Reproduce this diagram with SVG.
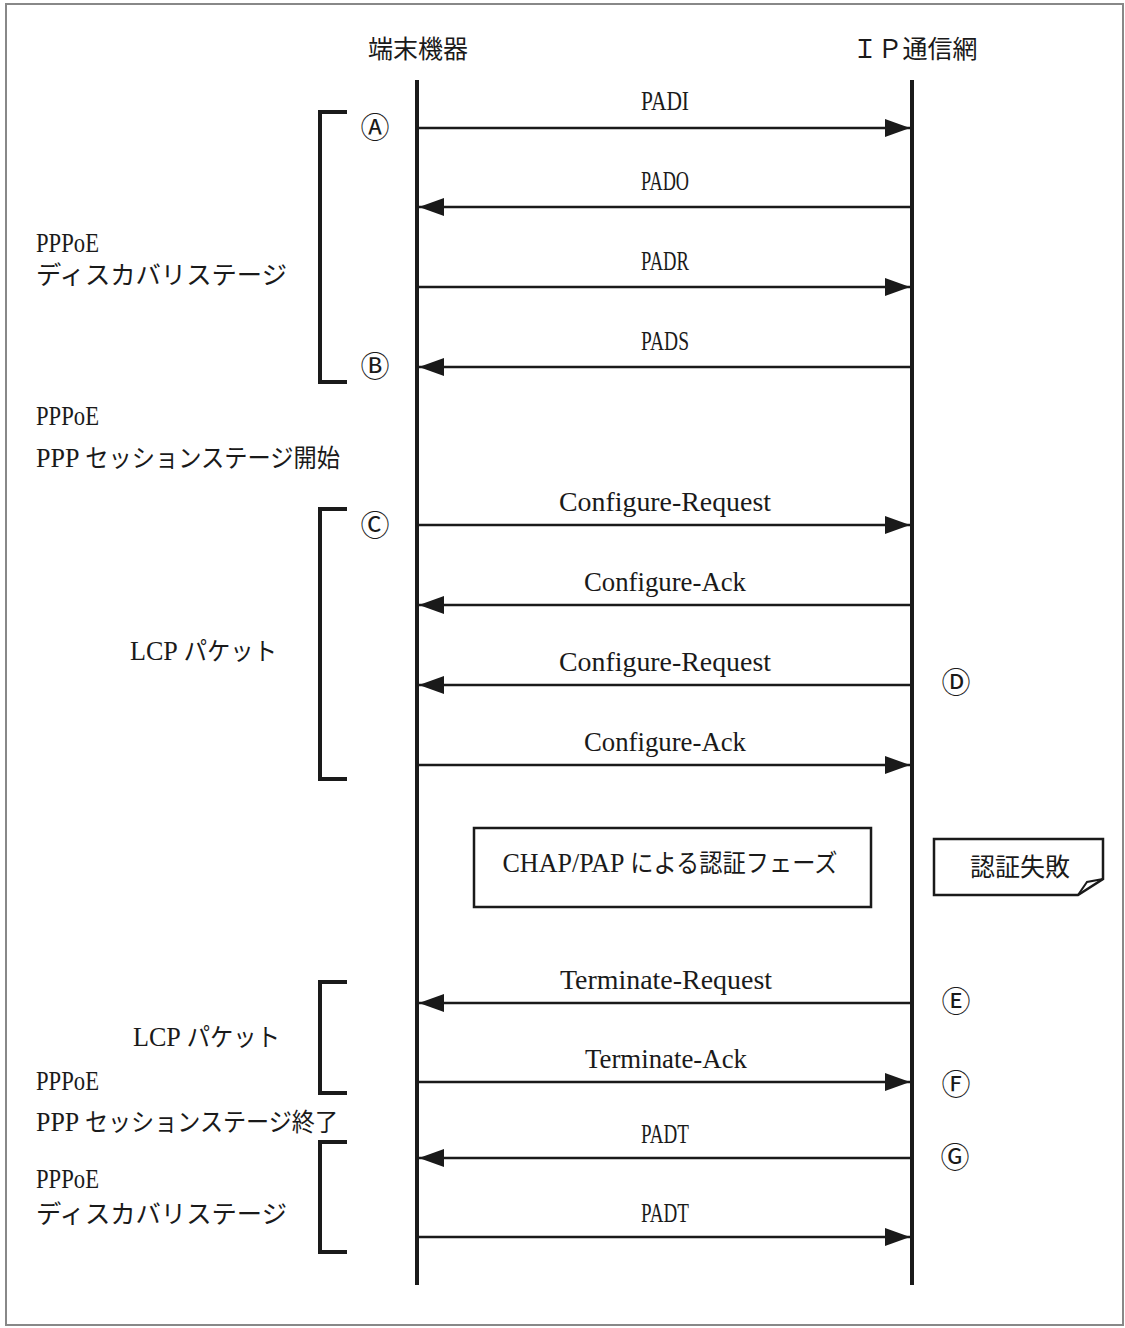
<svg xmlns="http://www.w3.org/2000/svg" width="1125" height="1328" viewBox="0 0 1125 1328">
<defs>
<marker id="ah" markerUnits="userSpaceOnUse" markerWidth="25" markerHeight="18" refX="25" refY="9" orient="auto">
<path d="M0,0 L25,9 L0,18 Z" fill="#1a1a1a"/>
</marker>
<style>
text{font-family:"Liberation Serif","Noto Sans CJK JP",serif;fill:#1a1a1a;font-size:25px}
.lbl{font-size:28px;text-anchor:middle}
.lat{font-size:28px}
.mid{text-anchor:middle}
.circ{font-family:"Noto Sans CJK JP",sans-serif;font-size:29px;text-anchor:middle}
.msg{stroke:#1a1a1a;stroke-width:2.5;fill:none;marker-end:url(#ah)}
.life{stroke:#1a1a1a;stroke-width:4;fill:none}
.brk{stroke:#1a1a1a;stroke-width:4;fill:none}
.box{stroke:#1a1a1a;stroke-width:2.5;fill:#fff}
</style>
</defs>
<rect x="6" y="4" width="1117" height="1321" fill="#fff" stroke="#888" stroke-width="2"/>

<g id="terminal">
<text class="mid" x="418" y="58">端末機器</text>
<line class="life" x1="417" y1="80" x2="417" y2="1285"/>
</g>
<g id="network">
<text class="mid" x="915" y="58">ＩＰ通信網</text>
<line class="life" x1="912" y1="80" x2="912" y2="1285"/>
</g>

<g id="connectors">
<line class="msg" x1="419" y1="128" x2="910" y2="128"/>
<line class="msg" x1="910" y1="207" x2="419" y2="207"/>
<line class="msg" x1="419" y1="287" x2="910" y2="287"/>
<line class="msg" x1="910" y1="367" x2="419" y2="367"/>
<line class="msg" x1="419" y1="525" x2="910" y2="525"/>
<line class="msg" x1="910" y1="605" x2="419" y2="605"/>
<line class="msg" x1="910" y1="685" x2="419" y2="685"/>
<line class="msg" x1="419" y1="765" x2="910" y2="765"/>
<line class="msg" x1="910" y1="1003" x2="419" y2="1003"/>
<line class="msg" x1="419" y1="1082" x2="910" y2="1082"/>
<line class="msg" x1="910" y1="1158" x2="419" y2="1158"/>
<line class="msg" x1="419" y1="1237" x2="910" y2="1237"/>
</g>

<g id="msg-labels">
<text class="lbl" x="665" y="110" textLength="48" lengthAdjust="spacingAndGlyphs">PADI</text>
<text class="lbl" x="665" y="190" textLength="48" lengthAdjust="spacingAndGlyphs">PADO</text>
<text class="lbl" x="665" y="270" textLength="48" lengthAdjust="spacingAndGlyphs">PADR</text>
<text class="lbl" x="665" y="350" textLength="48" lengthAdjust="spacingAndGlyphs">PADS</text>
<text class="lbl" x="665" y="511" textLength="212" lengthAdjust="spacingAndGlyphs">Configure-Request</text>
<text class="lbl" x="665" y="591" textLength="162" lengthAdjust="spacingAndGlyphs">Configure-Ack</text>
<text class="lbl" x="665" y="671" textLength="212" lengthAdjust="spacingAndGlyphs">Configure-Request</text>
<text class="lbl" x="665" y="751" textLength="162" lengthAdjust="spacingAndGlyphs">Configure-Ack</text>
<text class="lbl" x="666" y="989" textLength="212" lengthAdjust="spacingAndGlyphs">Terminate-Request</text>
<text class="lbl" x="666" y="1068" textLength="162" lengthAdjust="spacingAndGlyphs">Terminate-Ack</text>
<text class="lbl" x="665" y="1143" textLength="48" lengthAdjust="spacingAndGlyphs">PADT</text>
<text class="lbl" x="665" y="1222" textLength="48" lengthAdjust="spacingAndGlyphs">PADT</text>
</g>

<g id="markers">
<text class="circ" x="375" y="138">Ⓐ</text>
<text class="circ" x="375" y="377">Ⓑ</text>
<text class="circ" x="375" y="536">Ⓒ</text>
<text class="circ" x="956" y="693">Ⓓ</text>
<text class="circ" x="956" y="1012">Ⓔ</text>
<text class="circ" x="956" y="1095">Ⓕ</text>
<text class="circ" x="955" y="1168">Ⓖ</text>
</g>

<g id="bracket-discovery1">
<path class="brk" d="M347,112 H320 V382 H347"/>
<text class="lat" x="36" y="252" textLength="63" lengthAdjust="spacingAndGlyphs">PPPoE</text>
<text x="36" y="284" textLength="251" lengthAdjust="spacingAndGlyphs">ディスカバリステージ</text>
</g>
<g id="session-start">
<text class="lat" x="36" y="425" textLength="63" lengthAdjust="spacingAndGlyphs">PPPoE</text>
<text x="36" y="467" textLength="304" lengthAdjust="spacingAndGlyphs"><tspan class="lat">PPP</tspan> セッションステージ開始</text>
</g>
<g id="bracket-lcp1">
<path class="brk" d="M347,509 H320 V779 H347"/>
<text x="130" y="660" textLength="147" lengthAdjust="spacingAndGlyphs"><tspan class="lat">LCP</tspan> パケット</text>
</g>

<g id="auth-phase">
<rect class="box" x="474" y="828" width="397" height="79"/>
<text class="mid" x="670" y="872" textLength="335" lengthAdjust="spacingAndGlyphs"><tspan class="lat">CHAP/PAP</tspan> による認証フェーズ</text>
</g>
<g id="auth-fail">
<path class="box" d="M934,839 H1103 V879 L1078,895 H934 Z"/>
<path d="M1078,895 L1087,882 L1103,879" fill="none" stroke="#1a1a1a" stroke-width="2"/>
<text class="mid" x="1020" y="876">認証失敗</text>
</g>

<g id="bracket-lcp2">
<path class="brk" d="M347,982 H320 V1093 H347"/>
<text x="133" y="1046" textLength="147" lengthAdjust="spacingAndGlyphs"><tspan class="lat">LCP</tspan> パケット</text>
</g>
<g id="session-end">
<text class="lat" x="36" y="1090" textLength="63" lengthAdjust="spacingAndGlyphs">PPPoE</text>
<text x="36" y="1131" textLength="302" lengthAdjust="spacingAndGlyphs"><tspan class="lat">PPP</tspan> セッションステージ終了</text>
</g>
<g id="bracket-discovery2">
<path class="brk" d="M347,1142 H320 V1252 H347"/>
<text class="lat" x="36" y="1188" textLength="63" lengthAdjust="spacingAndGlyphs">PPPoE</text>
<text x="36" y="1223" textLength="251" lengthAdjust="spacingAndGlyphs">ディスカバリステージ</text>
</g>
</svg>
